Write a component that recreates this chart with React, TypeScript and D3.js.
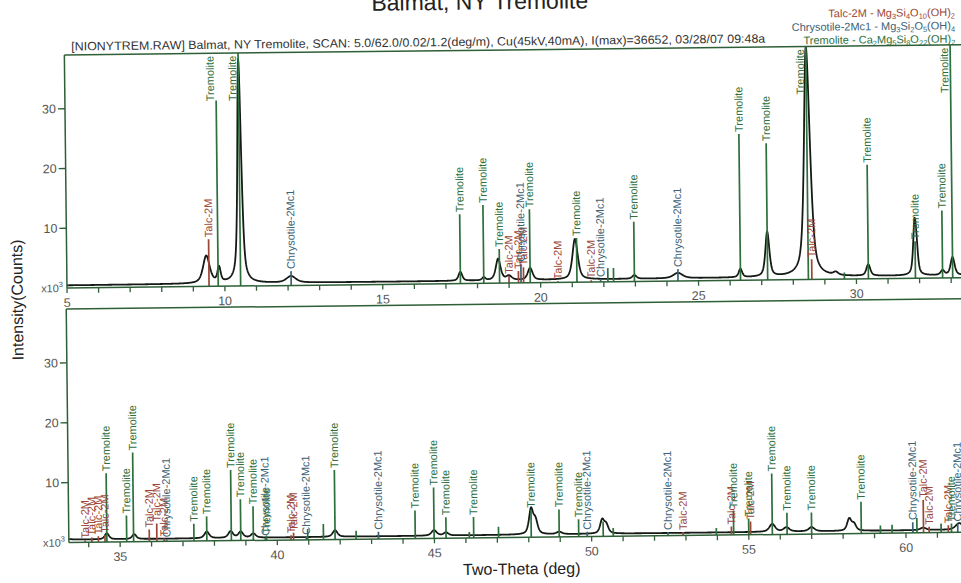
import React, { useMemo } from 'react';
import * as d3 from 'd3';

// ---- text ----
const TITLE = 'Balmat, NY Tremolite';
const HEADER =
  '[NIONYTREM.RAW] Balmat, NY Tremolite, SCAN: 5.0/62.0/0.02/1.2(deg/m), Cu(45kV,40mA), I(max)=36652, 03/28/07 09:48a';
const Y_LABEL = 'Intensity(Counts)';
const X_LABEL = 'Two-Theta (deg)';

// ---- axes ----
const TOP_DOMAIN = [5, 33.5];
const BOTTOM_DOMAIN = [33.37, 62.0];
const INTENSITY_DOMAIN = [0, 39]; // x10^3 counts
const TOP_TICK_LABELS = [5, 10, 15, 20, 25, 30];
const BOTTOM_TICK_LABELS = [35, 40, 45, 50, 55, 60];
const Y_TICK_LABELS = [10, 20, 30];

// ---- phases ----
const PHASE_NAMES = ['Talc-2M', 'Chrysotile-2Mc1', 'Tremolite'];
const PHASE_FORMULAS = ['Mg3Si4O10(OH)2', 'Mg3Si2O5(OH)4', 'Ca2Mg5Si8O22(OH)2'];

// reference lines (2θ, intensity x10^3)
const TREMOLITE_POS = [
  9.79, 10.5, 17.46, 18.2, 18.7, 19.67, 21.15, 22.97, 26.33, 27.19, 28.48, 30.38, 31.87, 32.73, 33.05,
  34.58, 35.21, 35.43, 37.35, 37.76, 38.54, 38.84, 39.24, 39.66, 41.84, 44.39, 44.99, 45.37, 46.25,
  48.08, 48.97, 49.59, 54.52, 55.0, 55.75, 56.22, 57.0, 58.58, 61.45,
];
const TREMOLITE_INT = [
  31.1, 39, 11.6, 13.1, 5.7, 12.3, 7.4, 10.0, 24.5, 22.9, 39, 19.1, 6.2, 11.3, 39,
  11.5, 4.4, 14.9, 2.9, 4.1, 11.8, 6.9, 5.7, 0.8, 11.6, 4.7, 8.5, 3.5, 3.5,
  4.6, 4.6, 2.9, 4.1, 2.7, 10.2, 3.6, 3.6, 5.3, 1.5,
];
// weak tremolite lines drawn without a caption
const TREMOLITE_MINOR_POS = [22.13, 22.31, 29.62, 40.97, 41.47, 42.51, 46.11, 47.04, 50.37, 50.69, 53.97, 59.19, 59.56, 60.35, 61.12];
const TREMOLITE_MINOR_INT = [2.3, 2.3, 1.1, 1.8, 2.6, 1.4, 1.0, 1.8, 2.5, 1.4, 1.2, 1.3, 1.4, 2.5, 1.5];

const TALC_POS = [
  9.5, 19.0, 19.3, 19.46, 20.55, 21.6, 28.59, 33.89, 34.1, 34.31, 34.52, 35.93, 36.17, 36.4,
  40.44, 40.52, 52.91, 54.45, 55.06, 60.56, 60.74, 61.35,
];
const TALC_INT = [
  7.9, 1.2, 2.0, 2.6, 0.2, 0.3, 3.4, 0.3, 0.8, 1.0, 1.2, 2.0, 3.0, 0.5,
  0.8, 1.2, 0.6, 1.4, 2.2, 5.5, 1.0, 1.2,
];

const CHRYSOTILE_POS = [12.1, 19.38, 21.9, 24.35, 36.48, 39.62, 40.92, 43.22, 49.86, 52.43, 60.22, 61.65];
const CHRYSOTILE_INT = [2.4, 3.2, 0.5, 2.0, 0.35, 0.4, 0.5, 1.2, 0.8, 0.6, 1.8, 1.5];

// measured pattern: peak positions, heights (x10^3) and widths (deg)
const PEAK_POS = [
  9.42, 9.82, 10.5, 12.1, 17.46, 18.2, 18.66, 19.0, 19.67, 21.1, 22.97, 24.35, 26.33, 27.19, 28.48,
  29.35, 30.38, 31.86, 31.92, 32.73, 33.05,
  34.58, 35.45, 37.76, 38.52, 38.84, 39.24, 41.84, 44.99, 45.37, 48.08, 48.22, 48.97, 50.34, 50.47,
  55.75, 56.2, 57.0, 58.2, 58.35, 60.55, 61.7,
];
const PEAK_HEIGHT = [
  4.6, 2.5, 37.5, 1.1, 1.5, 0.5, 3.6, 0.7, 2.0, 6.8, 0.6, 0.9, 1.4, 7.5, 38.5,
  0.5, 1.9, 8.6, 2.5, 0.8, 3.0,
  1.0, 0.8, 1.1, 1.1, 1.0, 0.7, 1.1, 0.9, 0.5, 4.1, 2.2, 0.4, 2.2, 1.4,
  1.3, 0.7, 0.7, 2.0, 1.1, 0.4, 1.1,
];
const PEAK_FWHM = [
  0.25, 0.12, 0.14, 0.35, 0.14, 0.12, 0.18, 0.2, 0.18, 0.2, 0.16, 0.35, 0.13, 0.15, 0.22,
  0.18, 0.15, 0.12, 0.1, 0.14, 0.15,
  0.16, 0.16, 0.18, 0.18, 0.18, 0.18, 0.18, 0.2, 0.18, 0.16, 0.16, 0.2, 0.16, 0.16,
  0.22, 0.22, 0.22, 0.16, 0.16, 0.22, 0.28,
];
const BACKGROUND = 0.45;

// ---- style ----
const FONT = '"Liberation Sans", Arial, Helvetica, sans-serif';
const PHASE_COLORS = ['#9c4636', '#3c6275', '#2e6f3c'];
const AXIS_COLOR = '#2f5f37';
const CURVE_COLOR = '#141a14';
const TICK_TEXT = '#555';
const LABEL_LEN: Record<string, number> = { 'Talc-2M': 40, 'Chrysotile-2Mc1': 80, Tremolite: 46 };
const PANEL_W = 900;
const PANELS = [
  { domain: TOP_DOMAIN, ticks: TOP_TICK_LABELS, x0: 67, y0: 55, base: 288 },
  { domain: BOTTOM_DOMAIN, ticks: BOTTOM_TICK_LABELS, x0: 66, y0: 309, base: 542.5 },
];

const ETA = 0.6;
function profileAt(t: number) {
  let v = BACKGROUND;
  for (let i = 0; i < PEAK_POS.length; i++) {
    const u = (t - PEAK_POS[i]) / PEAK_FWHM[i];
    const u2 = 4 * u * u;
    if (u2 > 4000) continue;
    v += PEAK_HEIGHT[i] * (ETA / (1 + u2) + (1 - ETA) * Math.exp(-Math.LN2 * u2));
  }
  return v;
}

type Stick = { pos: number; int: number; phase: number; label: boolean };
function allSticks(): Stick[] {
  const s: Stick[] = [];
  TALC_POS.forEach((p, i) => s.push({ pos: p, int: TALC_INT[i], phase: 0, label: true }));
  CHRYSOTILE_POS.forEach((p, i) => s.push({ pos: p, int: CHRYSOTILE_INT[i], phase: 1, label: true }));
  TREMOLITE_MINOR_POS.forEach((p, i) => s.push({ pos: p, int: TREMOLITE_MINOR_INT[i], phase: 2, label: false }));
  TREMOLITE_POS.forEach((p, i) => s.push({ pos: p, int: TREMOLITE_INT[i], phase: 2, label: true }));
  return s;
}

function Formula({ f }: { f: string }) {
  const parts = f.split(/(\d+)/).filter((p) => p.length);
  let sub = false;
  return (
    <>
      {parts.map((p, i) => {
        const isDigit = /^\d+$/.test(p);
        const dy = isDigit && !sub ? 2.5 : !isDigit && sub ? -2.5 : 0;
        sub = isDigit;
        return (
          <tspan key={i} dy={dy} fontSize={isDigit ? 7.5 : 11}>
            {p}
          </tspan>
        );
      })}
    </>
  );
}

function Panel({ idx }: { idx: number }) {
  const L = PANELS[idx];
  const x = d3.scaleLinear().domain(L.domain).range([L.x0, L.x0 + PANEL_W]);
  const y = d3.scaleLinear().domain(INTENSITY_DOMAIN).range([L.base, L.y0]);
  const clipId = `clip-${idx}`;

  const path = useMemo(() => {
    const pts = d3.range(L.domain[0], L.domain[1] + 0.005, 0.01).map((t) => [t, profileAt(t)] as [number, number]);
    return d3
      .line<[number, number]>()
      .x((d) => x(d[0]))
      .y((d) => y(d[1]))(pts);
  }, [idx]);

  const sticks = allSticks().filter((s) => s.pos >= L.domain[0] && s.pos <= L.domain[1]);
  const minor = d3.range(Math.ceil(L.domain[0]), Math.floor(L.domain[1]) + 1);

  return (
    <g>
      <defs>
        <clipPath id={clipId}>
          <rect x={L.x0} y={L.y0} width={PANEL_W} height={L.base - L.y0} />
        </clipPath>
      </defs>
      <g clipPath={`url(#${clipId})`}>
        <path d={path || ''} fill="none" stroke={CURVE_COLOR} strokeWidth={1.8} strokeLinejoin="round" />
        {sticks.map((s, i) => (
          <line
            key={i}
            x1={x(s.pos)}
            x2={x(s.pos)}
            y1={y(0)}
            y2={y(Math.min(s.int, INTENSITY_DOMAIN[1]))}
            stroke={PHASE_COLORS[s.phase]}
            strokeWidth={1.7}
          />
        ))}
      </g>
      {sticks
        .filter((s) => s.label)
        .map((s, i) => {
          const name = PHASE_NAMES[s.phase];
          const len = LABEL_LEN[name];
          const top = y(Math.min(s.int, INTENSITY_DOMAIN[1]));
          let bottom = top - 2;
          let dx = 0;
          if (bottom - len < L.y0 + 1) {
            dx = -6;
            bottom = Math.max(bottom, L.y0 + 2 + len);
          }
          return (
            <text
              key={i}
              transform={`translate(${x(s.pos) + dx},${bottom}) rotate(-90)`}
              dy="0.35em"
              fontSize={11}
              fill={PHASE_COLORS[s.phase]}
            >
              {name}
            </text>
          );
        })}
      {/* frame and axes */}
      <line x1={L.x0} x2={L.x0 + PANEL_W} y1={L.y0} y2={L.y0} stroke={AXIS_COLOR} strokeWidth={1.5} />
      <line x1={L.x0} x2={L.x0} y1={L.y0} y2={L.base} stroke={AXIS_COLOR} strokeWidth={1.5} />
      <line x1={L.x0} x2={L.x0 + PANEL_W} y1={L.base} y2={L.base} stroke={AXIS_COLOR} strokeWidth={1.5} />
      {minor.map((t) => (
        <line key={t} x1={x(t)} x2={x(t)} y1={L.base} y2={L.base + 5} stroke={AXIS_COLOR} strokeWidth={1.3} />
      ))}
      {L.ticks.map((t) => (
        <text key={t} x={x(t)} y={L.base + 19} textAnchor="middle" fontSize={12.5} fill={TICK_TEXT}>
          {t}
        </text>
      ))}
      {Y_TICK_LABELS.map((t) => (
        <g key={t}>
          <line x1={L.x0 - 7} x2={L.x0} y1={y(t)} y2={y(t)} stroke={AXIS_COLOR} strokeWidth={1.4} />
          <text x={L.x0 - 9} y={y(t)} dy="0.35em" textAnchor="end" fontSize={12.5} fill={TICK_TEXT}>
            {t}
          </text>
        </g>
      ))}
      <text x={L.x0 - 4} y={L.base + 4} textAnchor="end" fontSize={11} fill={TICK_TEXT}>
        x10
        <tspan dy={-5} fontSize={7.5}>
          3
        </tspan>
      </text>
    </g>
  );
}

export default function App() {
  return (
    <svg
      width={961}
      height={583}
      viewBox="0 0 961 583"
      style={{ position: 'absolute', left: 0, top: 0, background: '#fff', fontFamily: FONT }}
    >
      <rect width={961} height={583} fill="#fff" />
      <g transform="rotate(-0.65 67 288)">
        <text x={483} y={14.2} textAnchor="middle" fontSize={23} fill="#222">
          {TITLE}
        </text>
        <text x={74} y={50.5} fontSize={12} fill="#333" textLength={694} lengthAdjust="spacingAndGlyphs">
          {HEADER}
        </text>
        {PHASE_NAMES.map((n, i) => (
          <text key={n} x={958} y={26 + i * 13.3} textAnchor="end" fontSize={11} fill={PHASE_COLORS[i]}>
            {n} - <Formula f={PHASE_FORMULAS[i]} />
          </text>
        ))}
        <Panel idx={0} />
        <Panel idx={1} />
        <text
          transform="translate(17,299.4) rotate(-90)"
          textAnchor="middle"
          dy="0.35em"
          fontSize={16}
          fill="#222"
        >
          {Y_LABEL}
        </text>
        <text x={518.5} y={579.5} textAnchor="middle" fontSize={16} fill="#222">
          {X_LABEL}
        </text>
      </g>
    </svg>
  );
}
